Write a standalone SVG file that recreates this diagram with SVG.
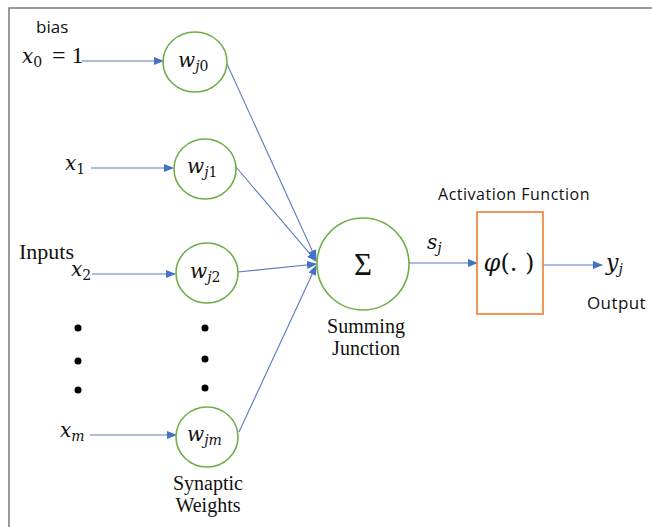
<svg xmlns="http://www.w3.org/2000/svg" width="652" height="527" viewBox="0 0 652 527">
<style>
.bg{fill:#fff}
.frame{fill:none;stroke:#7a7a7a;stroke-width:1.5}
.wc{fill:#fff;stroke:#70ad47;stroke-width:1.6}
.box{fill:#fff;stroke:#ed7d31;stroke-width:1.6}
.con{stroke:#5a7dbf;stroke-width:1.1;fill:none;marker-end:url(#ah)}
.math{font-family:"DejaVu Serif","Liberation Serif",serif;font-style:italic;fill:#111}
.up{font-style:normal}
.sans{font-family:"Open Sans","Liberation Sans",sans-serif;fill:#111}
.serif{font-family:"Liberation Serif",serif;fill:#111}
.dot{fill:#000}
</style>
<defs>
<marker id="ah" markerWidth="10" markerHeight="8" refX="9" refY="4" orient="auto" markerUnits="userSpaceOnUse">
<path d="M0,0 L10,4 L0,8 Z" fill="#4472c4"/>
</marker>
</defs>
<rect class="bg" x="0" y="0" width="652" height="527"/>
<path class="frame" d="M9,527 V8 H652"/>

<g id="connectors">
<line class="con" x1="82" y1="61" x2="163" y2="61"/>
<line class="con" x1="91" y1="168" x2="173" y2="168"/>
<line class="con" x1="92" y1="274" x2="175" y2="274"/>
<line class="con" x1="90" y1="435" x2="176" y2="435"/>
<line class="con" x1="227" y1="64" x2="316" y2="259"/>
<line class="con" x1="236" y1="167" x2="316" y2="261"/>
<line class="con" x1="238" y1="272" x2="316" y2="264"/>
<line class="con" x1="239" y1="432" x2="316" y2="266"/>
<line class="con" x1="409" y1="263" x2="477" y2="263"/>
<line class="con" x1="543" y1="265" x2="602" y2="265"/>
</g>

<g id="inputs">
<text class="sans" x="36" y="33" font-size="17">bias</text>
<text class="math" x="22" y="63" font-size="20">x<tspan class="up" font-size="14" dy="4">0</tspan></text>
<text class="serif" x="52" y="63" font-size="24">= 1</text>
<text class="math" x="65" y="170" font-size="20">x<tspan class="up" font-size="14" dy="4">1</tspan></text>
<text class="serif" x="19" y="259" font-size="22">Inputs</text>
<text class="math" x="71" y="276" font-size="20">x<tspan class="up" font-size="14" dy="4">2</tspan></text>
<text class="math" x="60" y="437" font-size="20">x<tspan font-size="14" dy="4">m</tspan></text>
<circle class="dot" cx="78" cy="328" r="3.5"/>
<circle class="dot" cx="78" cy="361" r="3.5"/>
<circle class="dot" cx="78" cy="390" r="3.5"/>
</g>

<g id="w_j0">
<ellipse class="wc" cx="195" cy="62" rx="32" ry="30"/>
<text class="math" x="178" y="67" font-size="20">w<tspan font-size="14" dy="4">j</tspan><tspan class="up" font-size="14">0</tspan></text>
</g>
<g id="w_j1">
<ellipse class="wc" cx="205" cy="169" rx="31" ry="30"/>
<text class="math" x="187" y="173" font-size="20">w<tspan font-size="14" dy="4">j</tspan><tspan class="up" font-size="14">1</tspan></text>
</g>
<g id="w_j2">
<ellipse class="wc" cx="207" cy="273" rx="31" ry="30"/>
<text class="math" x="190" y="278" font-size="20">w<tspan font-size="14" dy="4">j</tspan><tspan class="up" font-size="14">2</tspan></text>
</g>
<g id="w_jm">
<ellipse class="wc" cx="207" cy="437" rx="31" ry="30"/>
<text class="math" x="187" y="441" font-size="20">w<tspan font-size="14" dy="4">jm</tspan></text>
</g>
<g id="weight_dots">
<circle class="dot" cx="205" cy="328" r="3.5"/>
<circle class="dot" cx="205" cy="359" r="3.5"/>
<circle class="dot" cx="205" cy="388" r="3.5"/>
<text class="serif" x="208" y="490" font-size="20" text-anchor="middle">Synaptic</text>
<text class="serif" x="208" y="512" font-size="20" text-anchor="middle">Weights</text>
</g>

<g id="summing">
<circle class="wc" cx="363" cy="264" r="46"/>
<text class="serif" x="363" y="275" font-size="31" text-anchor="middle">Σ</text>
<text class="serif" x="366" y="333" font-size="20" text-anchor="middle">Summing</text>
<text class="serif" x="366" y="355" font-size="20" text-anchor="middle">Junction</text>
</g>

<text class="math" x="427" y="249" font-size="20">s<tspan font-size="14" dy="4">j</tspan></text>

<g id="activation">
<rect class="box" x="477" y="212" width="66" height="102"/>
<text class="math" x="509" y="271" font-size="24" text-anchor="middle">φ<tspan class="up">(. )</tspan></text>
<text class="sans" x="514" y="200" font-size="16" letter-spacing="0.5" text-anchor="middle">Activation Function</text>
</g>

<g id="output">
<text class="math" x="606" y="270" font-size="22">y<tspan font-size="14" dy="4">j</tspan></text>
<text class="sans" x="587" y="309" font-size="17" letter-spacing="0.4">Output</text>
</g>
</svg>
